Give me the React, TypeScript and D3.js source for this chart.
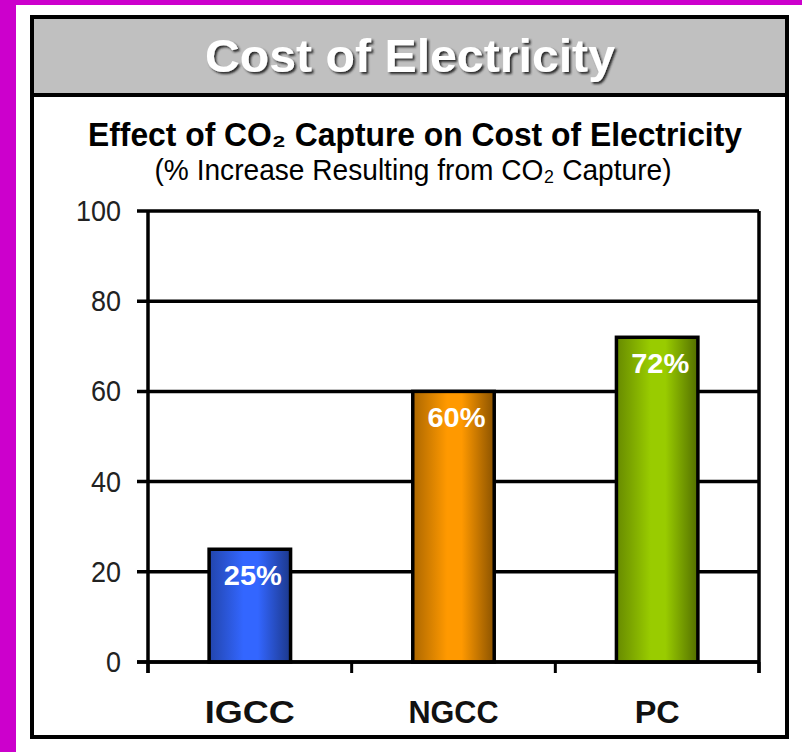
import React from "react";
import * as d3 from "d3";

// Chart data
const categories: string[] = ["IGCC", "NGCC", "PC"];
const increasePct: number[] = [25, 60, 72];
const barColors: string[] = ["#3366ff", "#ff9900", "#99cc00"];
const yTicks: number[] = [0, 20, 40, 60, 80, 100];

const W = 802;
const H = 752;
const plot = { left: 148, right: 759, top: 211, bottom: 662 };

const FONT = "'Liberation Sans', Arial, Helvetica, sans-serif";

export default function App() {
  const x = d3
    .scaleBand<string>()
    .domain(categories)
    .range([plot.left, plot.right])
    .paddingInner(0.6)
    .paddingOuter(0.3);
  const y = d3.scaleLinear().domain([0, 100]).range([plot.bottom, plot.top]);
  const step = x.step();
  const boundaries = d3.range(categories.length + 1).map((i) => plot.left + i * step);

  const gradId = (i: number) => `barGrad${i}`;

  return (
    <svg
      width={W}
      height={H}
      viewBox={`0 0 ${W} ${H}`}
      style={{ position: "absolute", left: 0, top: 0, display: "block" }}
    >
      <defs>
        {barColors.map((c, i) => {
          const base = d3.color(c)!;
          return (
            <linearGradient key={i} id={gradId(i)} x1="0" y1="0" x2="1" y2="0">
              <stop offset="0" stopColor={base.darker(1.1).formatHex()} />
              <stop offset="0.42" stopColor={c} />
              <stop offset="0.6" stopColor={c} />
              <stop offset="1" stopColor={base.darker(1.7).formatHex()} />
            </linearGradient>
          );
        })}
        <filter id="titleShadow" x="-5%" y="-20%" width="110%" height="140%">
          <feDropShadow dx="2" dy="2" stdDeviation="0.8" floodColor="#222" floodOpacity="0.95" />
        </filter>
      </defs>

      {/* page background */}
      <rect x={0} y={0} width={W} height={H} fill="#ffffff" />
      <rect x={0} y={0} width={W} height={5} fill="#cc00cc" />
      <rect x={0} y={0} width={16} height={H} fill="#cc00cc" />

      {/* panel header */}
      <rect x={32} y={17} width={755} height={78} fill="#c0c0c0" />
      <line x1={32} x2={787} y1={95} y2={95} stroke="#000" strokeWidth={4} />
      <rect x={32} y={17} width={755} height={720} fill="none" stroke="#000" strokeWidth={4} />

      <text
        x={410}
        y={72}
        fontFamily={FONT}
        fontWeight="bold"
        fontSize={47}
        textAnchor="middle"
        fill="#ffffff"
        filter="url(#titleShadow)"
        textLength={410}
        lengthAdjust="spacingAndGlyphs"
      >
        Cost of Electricity
      </text>

      {/* chart titles */}
      <text
        x={415}
        y={146}
        fontFamily={FONT}
        fontWeight="bold"
        fontSize={33}
        textAnchor="middle"
        fill="#000"
        textLength={654}
        lengthAdjust="spacingAndGlyphs"
      >
        Effect of CO₂ Capture on Cost of Electricity
      </text>
      <text
        x={413}
        y={180}
        fontFamily={FONT}
        fontSize={30}
        textAnchor="middle"
        fill="#000"
        textLength={517}
        lengthAdjust="spacingAndGlyphs"
      >
        (% Increase Resulting from CO₂ Capture)
      </text>

      {/* gridlines */}
      {yTicks.map((t) => (
        <line
          key={`g${t}`}
          x1={plot.left - 11}
          x2={plot.right}
          y1={y(t)}
          y2={y(t)}
          stroke="#000"
          strokeWidth={3.5}
        />
      ))}
      <line x1={plot.right} x2={plot.right} y1={y(100)} y2={plot.bottom + 11} stroke="#000" strokeWidth={3.5} />

      {/* y tick labels */}
      <g fontFamily={FONT} fontSize={30} textAnchor="end" fill="#222">
        {yTicks.map((t) => {
          const s = String(t);
          return (
            <text
              key={`t${t}`}
              x={121}
              y={y(t) + 10}
              textLength={s.length * 15}
              lengthAdjust="spacingAndGlyphs"
            >
              {s}
            </text>
          );
        })}
      </g>

      {/* bars */}
      {categories.map((c, i) => {
        const v = increasePct[i];
        const bx = x(c)!;
        const by = y(v);
        return (
          <g key={c}>
            <rect
              x={bx}
              y={by}
              width={x.bandwidth()}
              height={y(0) - by}
              fill={`url(#${gradId(i)})`}
              stroke="#000"
              strokeWidth={3.5}
            />
            <text
              x={bx + x.bandwidth() / 2 + 3}
              y={by + 36}
              fontFamily={FONT}
              fontWeight="bold"
              fontSize={28}
              textAnchor="middle"
              fill="#ffffff"
              textLength={58}
              lengthAdjust="spacingAndGlyphs"
            >
              {`${v}%`}
            </text>
          </g>
        );
      })}

      {/* axes */}
      <line x1={plot.left} x2={plot.left} y1={y(100)} y2={plot.bottom + 11} stroke="#000" strokeWidth={3.5} />
      {boundaries.map((bx, i) => (
        <line key={`b${i}`} x1={bx} x2={bx} y1={plot.bottom} y2={plot.bottom + 11} stroke="#000" strokeWidth={3} />
      ))}
      <line x1={plot.left - 11} x2={plot.right} y1={y(0)} y2={y(0)} stroke="#000" strokeWidth={3.5} />

      {/* category labels */}
      <g fontFamily={FONT} fontWeight="bold" fontSize={31} textAnchor="middle" fill="#111">
        {categories.map((c) => (
          <text
            key={c}
            x={x(c)! + x.bandwidth() / 2}
            y={723}
            textLength={c.length * 22.5}
            lengthAdjust="spacingAndGlyphs"
          >
            {c}
          </text>
        ))}
      </g>
    </svg>
  );
}
